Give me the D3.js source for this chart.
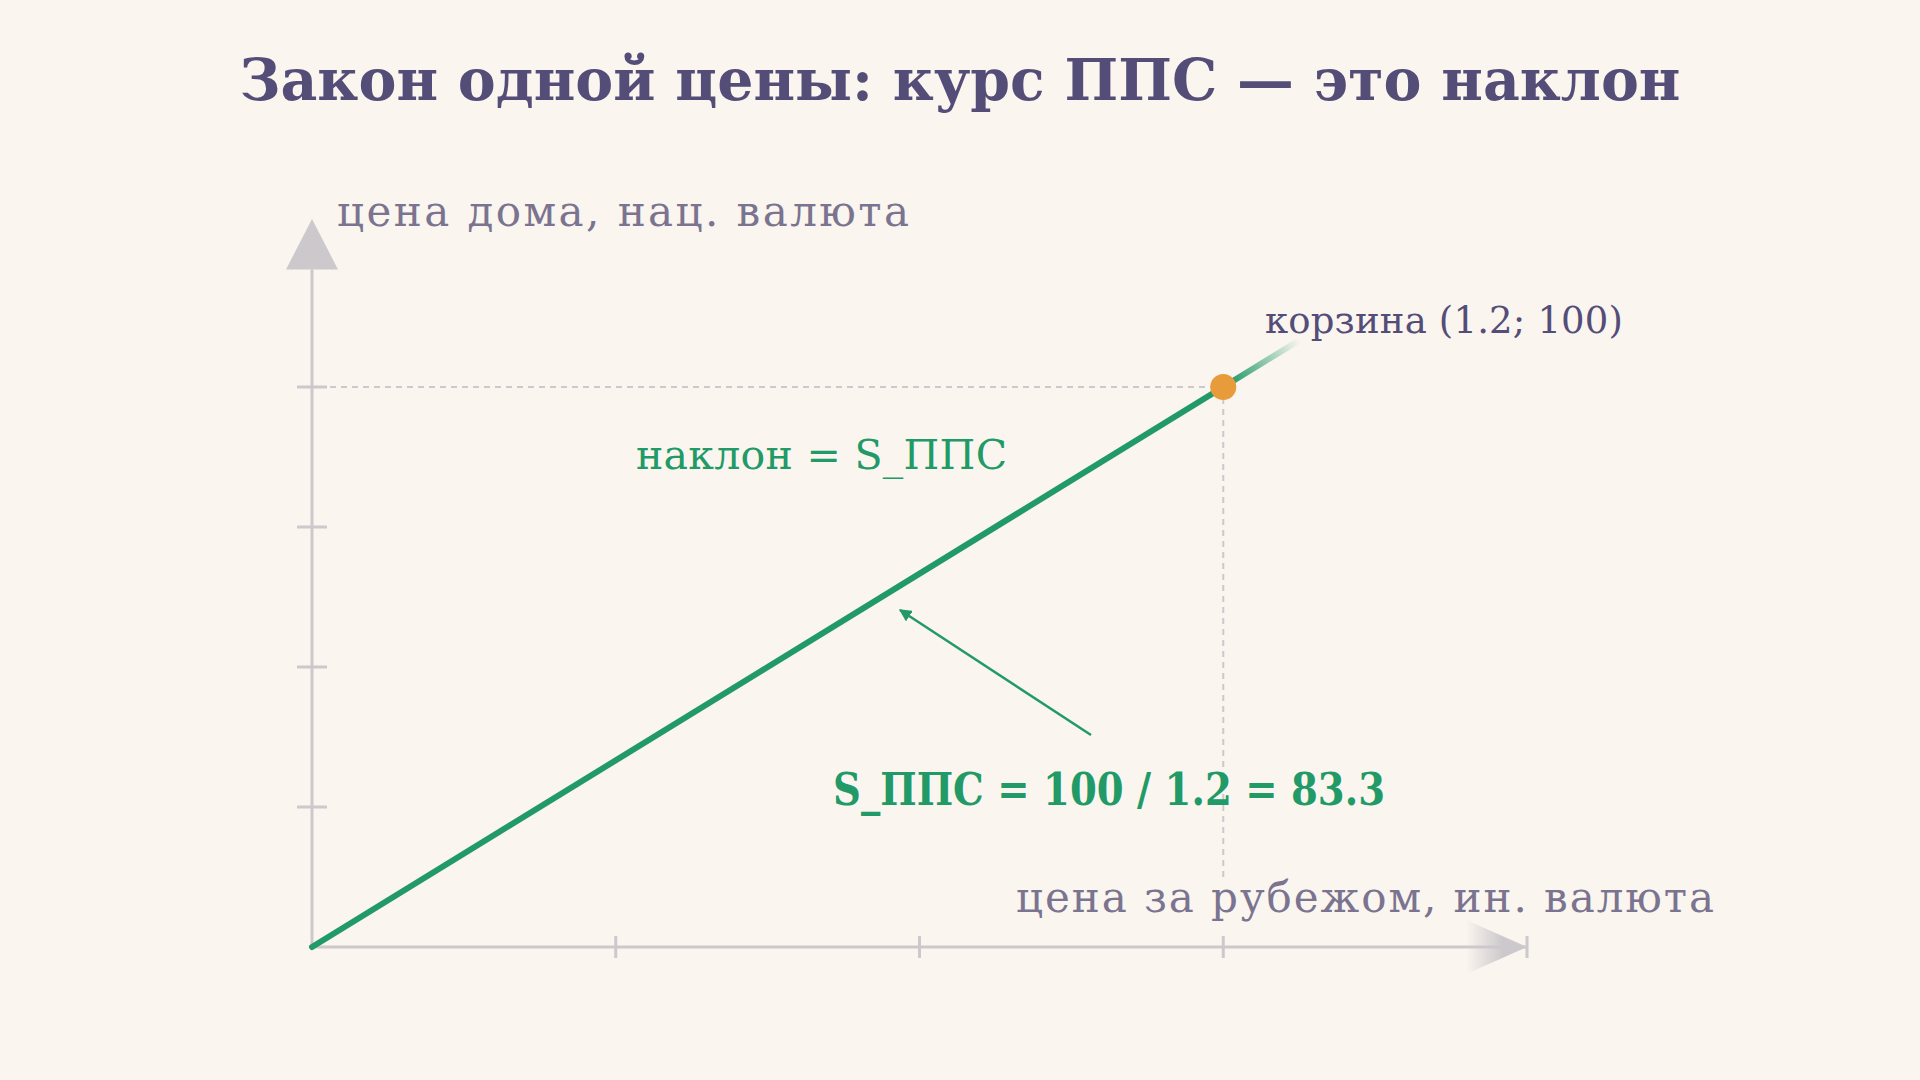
<!DOCTYPE html><html><head><meta charset="utf-8">
<script src="https://cdn.jsdelivr.net/npm/d3@7"></script>
<style>body{margin:0;background:#faf5ee}</style></head><body>
<script>
const title = "Закон одной цены: курс ППС — это наклон";
const xTicks = [0.4, 0.8, 1.2];
const yTicks = [25, 50, 75, 100];
const basket = [1.2, 100];
const lineEnd = [1.3, 108.3];
const slope = 100 / 1.2;
const xLabel = "цена за рубежом, ин. валюта";
const yLabel = "цена дома, нац. валюта";
const basketLabel = "корзина (1.2; 100)";
const slopeLabel = "наклон = S_ППС";
const formula = "S_ППС = 100 / 1.2 = 83.3";

const W=1920,H=1080, font="'DejaVu Serif', serif";
const svg=d3.select("body").append("svg").attr("width",W).attr("height",H);
svg.append("rect").attr("width",W).attr("height",H).attr("fill","#faf5ee");
const x=d3.scaleLinear().domain([0,1.6]).range([312,1527]);
const y=d3.scaleLinear().domain([0,100]).range([947,387]);
const ax="#cdc8cc";
const defs=svg.append("defs");
const g1=defs.append("linearGradient").attr("id","lg").attr("gradientUnits","userSpaceOnUse")
 .attr("x1",x(0)).attr("y1",y(0)).attr("x2",x(lineEnd[0])).attr("y2",y(lineEnd[1]));
g1.append("stop").attr("offset",0.93).attr("stop-color","#229a68");
g1.append("stop").attr("offset",1).attr("stop-color","#229a68").attr("stop-opacity",0);
const g2=defs.append("linearGradient").attr("id","xg");
g2.append("stop").attr("offset",0).attr("stop-color",ax).attr("stop-opacity",0);
g2.append("stop").attr("offset",0.6).attr("stop-color",ax);

svg.append("text").attr("x",W/2).attr("y",100).attr("text-anchor","middle").attr("font-family",font)
 .attr("font-weight","bold").attr("font-size",57).attr("fill","#544d78").attr("textLength",1441).attr("lengthAdjust","spacingAndGlyphs").text(title);

// axes
svg.append("line").attr("x1",x(0)).attr("x2",x(1.6)).attr("y1",y(0)).attr("y2",y(0)).attr("stroke",ax).attr("stroke-width",3);
svg.append("line").attr("x1",x(0)).attr("x2",x(0)).attr("y1",y(0)).attr("y2",y(121)).attr("stroke",ax).attr("stroke-width",3);
svg.append("path").attr("d",`M${x(0)-26},${y(121)} L${x(0)+26},${y(121)} L${x(0)},${y(130)}Z`).attr("fill",ax);
svg.append("path").attr("d",`M${x(1.52)},${y(0)-27} L${x(1.6)},${y(0)} L${x(1.52)},${y(0)+27}Z`).attr("fill","url(#xg)");
svg.append("line").attr("x1",x(1.6)).attr("x2",x(1.6)).attr("y1",y(0)-11).attr("y2",y(0)+11).attr("stroke",ax).attr("stroke-width",3);
svg.selectAll(".xt").data(xTicks).join("line").attr("x1",d=>x(d)).attr("x2",d=>x(d)).attr("y1",y(0)-11).attr("y2",y(0)+11).attr("stroke",ax).attr("stroke-width",3);
svg.selectAll(".yt").data(yTicks).join("line").attr("y1",d=>y(d)).attr("y2",d=>y(d)).attr("x1",x(0)-15).attr("x2",x(0)+15).attr("stroke",ax).attr("stroke-width",3);

// dashed guides
svg.append("line").attr("x1",x(0)-15).attr("x2",x(basket[0])).attr("y1",y(basket[1])).attr("y2",y(basket[1])).attr("stroke",ax).attr("stroke-width",2).attr("stroke-dasharray","6,5");
svg.append("line").attr("x1",x(basket[0])).attr("x2",x(basket[0])).attr("y1",y(basket[1])).attr("y2",y(12)).attr("stroke",ax).attr("stroke-width",2).attr("stroke-dasharray","6,5");

// line
svg.append("line").attr("x1",x(0)).attr("y1",y(0)).attr("x2",x(lineEnd[0])).attr("y2",y(lineEnd[0]*slope)).attr("stroke","url(#lg)").attr("stroke-width",6).attr("stroke-linecap","round");
svg.append("circle").attr("cx",x(basket[0])).attr("cy",y(basket[1])).attr("r",13).attr("fill","#e89b3a");

const lbl="#7a7490";
svg.append("text").attr("x",337).attr("y",226).attr("font-family",font).attr("font-size",42).attr("fill",lbl).attr("textLength",572).attr("lengthAdjust","spacing").text(yLabel);
svg.append("text").attr("x",1016).attr("y",912).attr("font-family",font).attr("font-size",42).attr("fill",lbl).attr("textLength",698).attr("lengthAdjust","spacing").text(xLabel);
svg.append("text").attr("x",1265).attr("y",333).attr("font-family",font).attr("font-size",37).attr("fill","#544d78").attr("textLength",358).attr("lengthAdjust","spacing").text(basketLabel);
svg.append("text").attr("x",636).attr("y",469).attr("font-family",font).attr("font-size",41).attr("fill","#229a68").attr("textLength",371).attr("lengthAdjust","spacing").text(slopeLabel);
svg.append("text").attr("x",833).attr("y",805).attr("font-family",font).attr("font-weight","bold").attr("font-size",45).attr("fill","#229a68").attr("textLength",552).attr("lengthAdjust","spacingAndGlyphs").text(formula);

// annotation arrow
defs.append("marker").attr("id","ah").attr("viewBox","0 0 10 10").attr("refX",9).attr("refY",5).attr("markerWidth",5).attr("markerHeight",5).attr("orient","auto")
 .append("path").attr("d","M0,0L10,5L0,10Z").attr("fill","#229a68");
svg.append("line").attr("x1",1091).attr("y1",735).attr("x2",900).attr("y2",610).attr("stroke","#229a68").attr("stroke-width",2.5).attr("marker-end","url(#ah)");
</script></body></html>
